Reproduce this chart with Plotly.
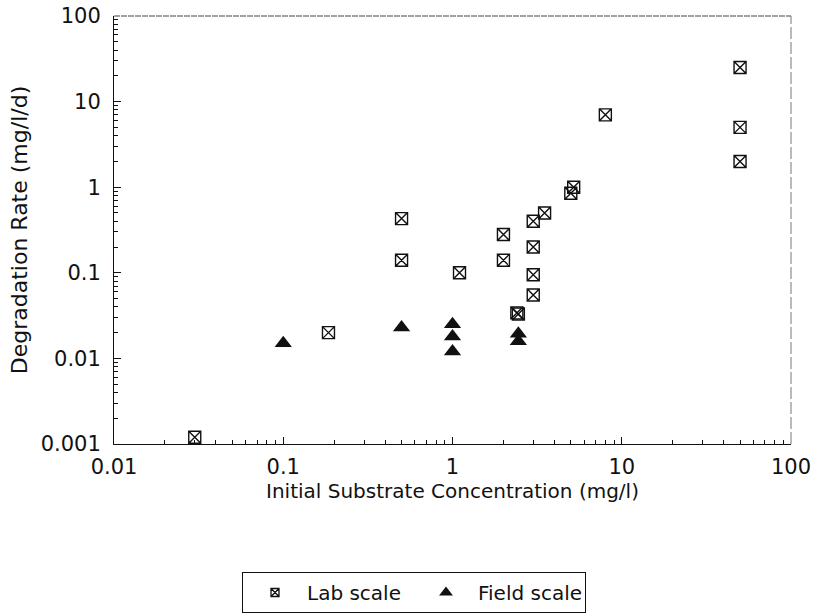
import plotly.graph_objects as go

# ---- data ----
lab_x = [0.03, 0.185, 0.5, 0.5, 1.1, 2.0, 2.0, 3.0, 3.5, 3.0, 3.0, 3.0, 2.4, 2.45, 5.0, 5.2, 8.0, 50, 50, 50]
lab_y = [0.0012, 0.02, 0.43, 0.14, 0.1, 0.28, 0.14, 0.4, 0.5, 0.2, 0.095, 0.055, 0.034, 0.033, 0.85, 1.0, 7.0, 25, 5, 2]

field_x = [0.1, 0.5, 1.0, 1.0, 1.0, 2.45, 2.45]
field_y = [0.015, 0.023, 0.025, 0.018, 0.012, 0.0194, 0.0159]

x_tickvals = [0.01, 0.1, 1, 10, 100]
x_ticktext = ["0.01", "0.1", "1", "10", "100"]
y_tickvals = [0.001, 0.01, 0.1, 1, 10, 100]
y_ticktext = ["0.001", "0.01", "0.1", "1", "10", "100"]

x_title = "Initial Substrate Concentration (mg/l)"
y_title = "Degradation Rate (mg/l/d)"
lab_name = "Lab scale"
field_name = "Field scale"

x_minor = [m * 10.0 ** e for e in range(-2, 2) for m in range(2, 10)]
y_minor = [m * 10.0 ** e for e in range(-3, 2) for m in range(2, 10)]

FONT = "DejaVu Sans"
INK = "#111111"

W, H = 813, 616

fig = go.Figure()

fig.add_trace(go.Scatter(
    x=lab_x, y=lab_y, mode="markers", name=lab_name, showlegend=False,
    marker=dict(symbol="square-x-open", size=12, color=INK, line=dict(width=1.4, color=INK)),
))
fig.add_trace(go.Scatter(
    x=field_x, y=field_y, mode="markers", name=field_name, showlegend=False,
    marker=dict(symbol="triangle-up", size=15, color=INK, line=dict(width=0)),
))
# legend entries (smaller symbols as in the reference legend)
fig.add_trace(go.Scatter(
    x=[None], y=[None], mode="markers", name=lab_name,
    marker=dict(symbol="square-x-open", size=8, color=INK, line=dict(width=1.3, color=INK)),
))
fig.add_trace(go.Scatter(
    x=[None], y=[None], mode="markers", name=field_name,
    marker=dict(symbol="triangle-up", size=12, color=INK, line=dict(width=0)),
))

axis_common = dict(
    type="log", showgrid=False, zeroline=False, automargin=False,
    showline=True, linecolor=INK, linewidth=1,
    ticks="inside", ticklen=7, tickwidth=1, tickcolor=INK,
    tickfont=dict(family=FONT, size=21, color=INK),
    tickmode="array", ticklabeloverflow="allow",
)

fig.update_xaxes(
    **axis_common, range=[-2, 2],
    tickvals=x_tickvals, ticktext=x_ticktext,
    minor=dict(tickmode="array", tickvals=x_minor, ticks="inside", ticklen=4, tickwidth=1, tickcolor=INK, showgrid=False),
    ticklabelstandoff=4,
    title=dict(text=x_title, font=dict(family=FONT, size=20, color=INK), standoff=2),
)
fig.update_yaxes(
    **axis_common, range=[-3, 2],
    tickvals=y_tickvals, ticktext=y_ticktext,
    minor=dict(tickmode="array", tickvals=y_minor, ticks="inside", ticklen=4, tickwidth=1, tickcolor=INK, showgrid=False),
    ticklabelstandoff=8,
    title=dict(text=y_title, font=dict(family=FONT, size=22, color=INK), standoff=6),
)

# top and right frame lines (lighter, broken in the reference)
fig.add_shape(type="line", xref="paper", yref="paper", x0=0, x1=1, y0=1, y1=1,
              line=dict(color="#444444", width=1, dash="6px,1px"))
fig.add_shape(type="line", xref="paper", yref="paper", x0=1, x1=1, y0=0, y1=1,
              line=dict(color="#777777", width=1, dash="12px,3px"))

fig.update_layout(
    width=W, height=H,
    margin=dict(l=114, r=22, t=16, b=172),
    paper_bgcolor="white", plot_bgcolor="white",
    font=dict(family=FONT, size=20, color=INK),
    hovermode=False,
    legend=dict(
        orientation="h",
        xref="container", yref="container",
        x=242 / W, xanchor="left",
        y=1 - 572 / H, yanchor="top",
        bordercolor=INK, borderwidth=1,
        font=dict(family=FONT, size=20, color=INK),
        itemwidth=54,
        entrywidth=102, entrywidthmode="pixels",
        tracegroupgap=0,
    ),
)

# remove the default 8px page margin so the figure fills the window exactly
fig.write_html(
    "out.html",
    config={"displayModeBar": False, "staticPlot": False},
    post_script="document.body.style.margin='0px';document.body.style.overflow='hidden';",
)
